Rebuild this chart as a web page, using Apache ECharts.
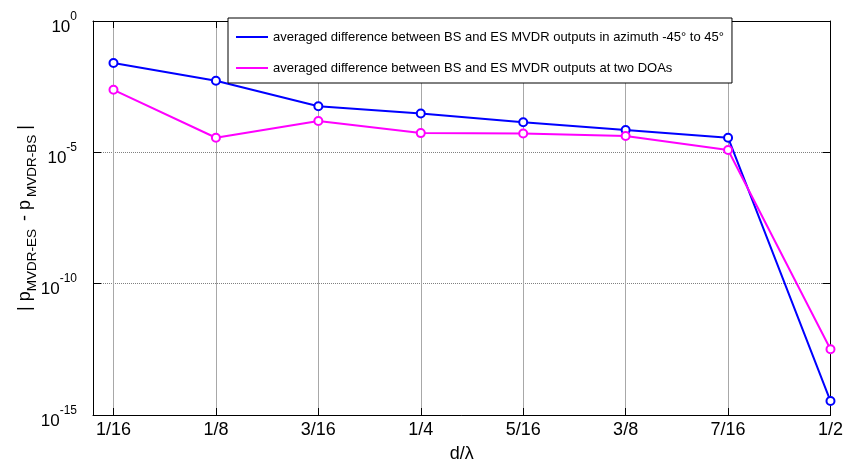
<!DOCTYPE html>
<html><head><meta charset="utf-8">
<script src="https://cdn.jsdelivr.net/npm/echarts@6/dist/echarts.min.js"></script>
<style>html,body{margin:0;padding:0;background:#fff}#c{width:846px;height:468px}</style>
</head><body><div id="c"></div>
<script>
const tickLabels = ['1/16', '1/8', '3/16', '1/4', '5/16', '3/8', '7/16', '1/2'];
const xPositions = [1, 2, 3, 4, 5, 6, 7, 8]; // d/lambda in units of 1/16
const blueValues = [2.5e-2, 5.3e-3, 5.7e-4, 3.0e-4, 1.4e-4, 7.1e-5, 3.6e-5, 3.4e-15];
const magentaValues = [2.4e-3, 3.6e-5, 1.55e-4, 5.4e-5, 5.2e-5, 4.2e-5, 1.23e-5, 3.2e-13];
const seriesNames = [
  'averaged difference between BS and ES MVDR outputs in azimuth -45\u00b0 to 45\u00b0',
  'averaged difference between BS and ES MVDR outputs at two DOAs'
];

const FONT = 'Liberation Sans, Arial, sans-serif';
const chart = echarts.init(document.getElementById('c'), null, {renderer: 'canvas'});

const xBase = {
  type: 'value', min: 0.8, max: 8,
  axisLine: {show: true, lineStyle: {color: '#000', width: 1}},
};
const yBase = {
  type: 'log', logBase: 10, min: 1e-15, max: 1, interval: 5,
  axisLine: {show: true, lineStyle: {color: '#000', width: 1}},
};

chart.setOption({
  animation: false,
  backgroundColor: '#fff',
  grid: {left: 93, right: 14, top: 21, bottom: 50},
  legend: {
    orient: 'vertical', left: 228, top: 18,
    icon: 'rect', itemWidth: 32, itemHeight: 2, itemGap: 15,
    itemStyle: {borderWidth: 0},
    padding: [11, 8, 7, 8],
    borderColor: '#000', borderWidth: 1, backgroundColor: '#fff',
    textStyle: {fontSize: 13, fontFamily: FONT, color: '#000', lineHeight: 16},
    data: seriesNames
  },
  xAxis: [
    Object.assign({}, xBase, {
      position: 'bottom',
      name: 'd/\u03bb', nameLocation: 'middle', nameGap: 30, nameMoveOverlap: false,
      nameTextStyle: {fontSize: 18, fontFamily: FONT, color: '#000'},
      axisTick: {show: true, inside: true, length: 7, lineStyle: {color: '#000'}, customValues: xPositions},
      axisLabel: {show: true, margin: 6, fontSize: 18, fontFamily: FONT, color: '#000',
        customValues: xPositions,
        formatter: v => tickLabels[Math.round(v) - 1]},
      splitLine: {show: true, lineStyle: {color: '#a8a8a8', width: 1}}
    }),
    Object.assign({}, xBase, {
      position: 'top',
      axisTick: {show: true, inside: true, length: 7, lineStyle: {color: '#000'}, customValues: xPositions},
      axisLabel: {show: false},
      splitLine: {show: false}
    })
  ],
  yAxis: [
    Object.assign({}, yBase, {
      position: 'left',
      name: '{m|| p}{s|MVDR-ES}{g| - p}{s|MVDR-BS}{m| |}',
      nameLocation: 'middle', nameGap: 55, nameRotate: 90, nameMoveOverlap: false,
      nameTextStyle: {
        color: '#000', fontFamily: FONT,
        rich: {
          m: {fontSize: 18, lineHeight: 22, verticalAlign: 'top', fontFamily: FONT, color: '#000'},
          g: {fontSize: 18, lineHeight: 22, verticalAlign: 'top', padding: [0, 3, 0, 3], fontFamily: FONT, color: '#000'},
          s: {fontSize: 13.5, lineHeight: 14, verticalAlign: 'top', padding: [9, 0, 0, 0], fontFamily: FONT, color: '#000'}
        }
      },
      axisTick: {show: true, inside: true, length: 8, lineStyle: {color: '#000'}},
      axisLabel: {
        show: true, margin: 16, padding: [0, 0, 4, 0],
        formatter: v => '{b|10}{s|' + Math.round(Math.log10(v)) + '}',
        rich: {
          b: {fontSize: 17, lineHeight: 17, verticalAlign: 'top', padding: [8, 0, 0, 0], fontFamily: FONT, color: '#000'},
          s: {fontSize: 12, lineHeight: 12, verticalAlign: 'top', fontFamily: FONT, color: '#000'}
        }
      },
      splitLine: {show: true, lineStyle: {color: '#808080', width: 1, type: [1, 1]}}
    }),
    Object.assign({}, yBase, {
      position: 'right',
      axisTick: {show: true, inside: true, length: 8, lineStyle: {color: '#000'}},
      axisLabel: {show: false},
      splitLine: {show: false}
    })
  ],
  series: [
    {
      name: seriesNames[0], type: 'line', xAxisIndex: 0, yAxisIndex: 0,
      data: xPositions.map((x, i) => [x, blueValues[i]]),
      symbol: 'emptyCircle', symbolSize: 8, showAllSymbol: true,
      lineStyle: {color: '#0000ff', width: 2},
      itemStyle: {color: '#0000ff', borderColor: '#0000ff', borderWidth: 1.5}
    },
    {
      name: seriesNames[1], type: 'line', xAxisIndex: 0, yAxisIndex: 0,
      data: xPositions.map((x, i) => [x, magentaValues[i]]),
      symbol: 'emptyCircle', symbolSize: 8, showAllSymbol: true,
      lineStyle: {color: '#ff00ff', width: 2},
      itemStyle: {color: '#ff00ff', borderColor: '#ff00ff', borderWidth: 1.5}
    }
  ]
});
</script></body></html>
